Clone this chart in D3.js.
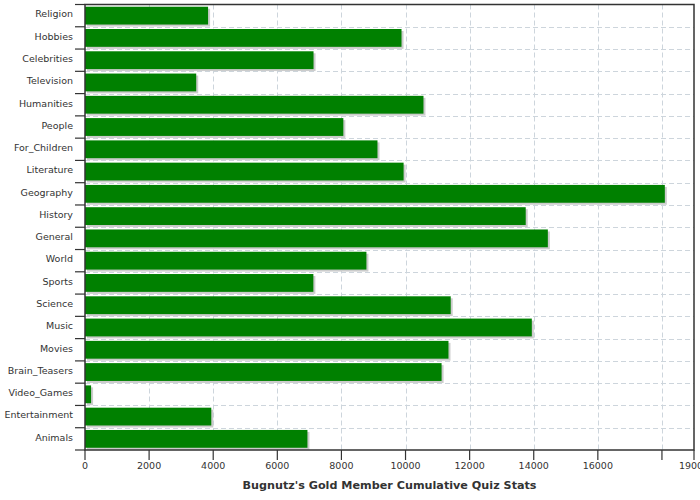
<!DOCTYPE html>
<html>
<head>
<meta charset="utf-8">
<script src="https://cdn.jsdelivr.net/npm/d3@7"></script>
<style>
html, body { margin: 0; padding: 0; background: #fff; }
svg { display: block; }
text { font-family: "DejaVu Sans", sans-serif; }
</style>
</head>
<body>
<script>
const categories = ["Religion","Hobbies","Celebrities","Television","Humanities","People","For_Children","Literature","Geography","History","General","World","Sports","Science","Music","Movies","Brain_Teasers","Video_Games","Entertainment","Animals"];
const values = [3840, 9875, 7130, 3470, 10560, 8060, 9125, 9940, 18090, 13750, 14440, 8780, 7125, 11410, 13940, 11340, 11125, 190, 3940, 6940];
const xTicks = [0, 2000, 4000, 6000, 8000, 10000, 12000, 14000, 16000, 18000, 19000];
const xTickLabels = ["0","2000","4000","6000","8000","10000","12000","14000","16000","","19000"];
const gridTicks = [2000, 4000, 6000, 8000, 10000, 12000, 14000, 16000, 18000];
const title = "Bugnutz's Gold Member Cumulative Quiz Stats";

const W = 700, H = 500;
const m = {left: 85, right: 6, top: 4.5, bottom: 50};
const svg = d3.select("body").append("svg").attr("width", W).attr("height", H);

const x = d3.scaleLinear().domain([0, 19000]).range([m.left, W - m.right]);
const y = d3.scaleBand().domain(categories).range([m.top, H - m.bottom]).paddingInner(0.2).paddingOuter(0.1);
const step = y.step();
const x0 = m.left, x1 = W - m.right, y0 = m.top, y1 = H - m.bottom;

const gridColor = "#cdd5dc";
// vertical grid
svg.append("g").selectAll("line").data(gridTicks).join("line")
  .attr("x1", d => Math.round(x(d)) + 0.5).attr("x2", d => Math.round(x(d)) + 0.5)
  .attr("y1", y0).attr("y2", y1)
  .attr("stroke", gridColor).attr("stroke-dasharray", "5,3");
// horizontal grid at band boundaries
const bounds = d3.range(1, categories.length).map(i => y0 + i * step);
svg.append("g").selectAll("line").data(bounds).join("line")
  .attr("x1", x0).attr("x2", x1)
  .attr("y1", d => Math.round(d) + 0.5).attr("y2", d => Math.round(d) + 0.5)
  .attr("stroke", gridColor).attr("stroke-dasharray", "5,3");

const rows = categories.map((c, i) => ({c, v: values[i]}));
// shadows
svg.append("g").selectAll("rect").data(rows).join("rect")
  .attr("x", x(0) + 2).attr("y", d => y(d.c) + 2)
  .attr("width", d => x(d.v) - x(0)).attr("height", y.bandwidth())
  .attr("fill", "#cccccc");
// bars
svg.append("g").selectAll("rect").data(rows).join("rect")
  .attr("x", x(0)).attr("y", d => y(d.c))
  .attr("width", d => x(d.v) - x(0)).attr("height", y.bandwidth())
  .attr("fill", "#008000");

// frame
const axisColor = "#333333";
svg.append("rect").attr("x", x0).attr("y", y0).attr("width", x1 - x0).attr("height", y1 - y0)
  .attr("fill", "none").attr("stroke", axisColor).attr("stroke-width", 1.5);

// left ticks at band boundaries
const allBounds = d3.range(0, categories.length + 1).map(i => y0 + i * step);
svg.append("g").selectAll("line").data(allBounds).join("line")
  .attr("x1", x0 - 10).attr("x2", x0)
  .attr("y1", d => d).attr("y2", d => d)
  .attr("stroke", axisColor).attr("stroke-width", 1.2);
// category labels
svg.append("g").selectAll("text").data(categories).join("text")
  .attr("x", x0 - 12).attr("y", d => y(d) + y.bandwidth() / 2 - 1.5)
  .attr("dy", "0.35em").attr("text-anchor", "end")
  .attr("font-size", "9.5px").attr("fill", "#333")
  .text(d => d);

// x axis ticks
svg.append("g").selectAll("line").data(xTicks).join("line")
  .attr("x1", d => x(d)).attr("x2", d => x(d))
  .attr("y1", y1).attr("y2", y1 + 10)
  .attr("stroke", axisColor).attr("stroke-width", 1.2);
svg.append("g").selectAll("text").data(xTicks).join("text")
  .attr("x", d => x(d)).attr("y", y1 + 19)
  .attr("text-anchor", "middle").attr("font-size", "9.5px").attr("fill", "#333")
  .text((d, i) => xTickLabels[i]);

// title
svg.append("text").attr("x", (x0 + x1) / 2).attr("y", 489)
  .attr("text-anchor", "middle").attr("font-size", "11.2px").attr("font-weight", "bold")
  .attr("fill", "#333").text(title);
</script>
</body>
</html>
